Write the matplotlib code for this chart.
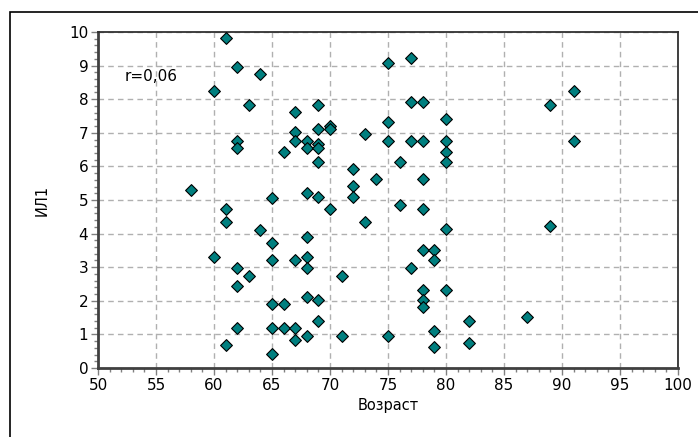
import matplotlib.pyplot as plt
from matplotlib.patches import Rectangle
from matplotlib.ticker import MultipleLocator

# Возраст и ИЛ1
age = [58, 60, 60, 61, 61, 61, 61, 62, 62, 62, 62, 62, 62, 63, 63, 64, 64,
       65, 65, 65, 65, 65, 65, 66, 66, 66,
       67, 67, 67, 67, 67, 67,
       68, 68, 68, 68, 68, 68, 68, 68,
       69, 69, 69, 69, 69, 69, 69, 69,
       70, 70, 70, 71, 71, 72, 72, 72, 73, 73, 74,
       75, 75, 75, 75, 76, 76, 77, 77, 77, 77,
       78, 78, 78, 78, 78, 78, 78, 78,
       79, 79, 79, 79,
       80, 80, 80, 80, 80, 80, 82, 82, 87, 89, 89, 91, 91]
il1 = [5.3, 8.24, 3.3, 9.83, 4.73, 4.34, 0.68, 8.96, 6.77, 6.55, 2.99, 2.43, 1.2, 7.83, 2.73, 8.76, 4.12,
       5.05, 3.71, 3.2, 1.91, 1.2, 0.43, 6.44, 1.91, 1.2,
       7.63, 7.01, 6.76, 3.2, 1.2, 0.83,
       6.77, 6.54, 5.21, 3.91, 3.3, 2.99, 2.12, 0.95,
       7.83, 7.11, 6.66, 6.54, 6.12, 5.1, 2.02, 1.41,
       7.2, 7.1, 4.73, 2.73, 0.95, 5.92, 5.42, 5.1, 6.95, 4.34, 5.62,
       9.07, 7.31, 6.76, 0.95, 6.12, 4.85, 9.22, 7.93, 6.76, 2.99,
       7.93, 6.76, 5.62, 4.73, 3.51, 2.33, 2.02, 1.81,
       3.51, 3.2, 1.09, 0.63,
       7.42, 6.76, 6.44, 6.12, 4.13, 2.32, 1.4, 0.73, 1.51, 7.83, 4.23, 8.24, 6.76]

W, H = 698, 437
fig = plt.figure(figsize=(W / 100, H / 100), dpi=100)
# рамка вокруг картинки (правый и нижний края обрезаны)
fig.patches.append(Rectangle((10 / W, -0.1), 1.2, (H - 12) / H + 0.1,
                             transform=fig.transFigure, fill=False,
                             edgecolor='black', linewidth=1.2))

ax = fig.add_axes([98 / W, (H - 368) / H, 580 / W, 336 / H])
ax.scatter(age, il1, marker='D', s=36, color='#007f7f', edgecolors='black',
           linewidths=0.8, zorder=3)

ax.set_xlim(50, 100)
ax.set_ylim(0, 10)
ax.xaxis.set_major_locator(MultipleLocator(5))
ax.xaxis.set_minor_locator(MultipleLocator(1))
ax.yaxis.set_major_locator(MultipleLocator(1))
ax.yaxis.set_minor_locator(MultipleLocator(0.2))

ax.grid(True, which='major', color='#b0b0b0', linestyle=(0, (4, 3)), linewidth=1)
ax.set_axisbelow(True)
for side in ['top', 'right']:
    ax.spines[side].set_color('#303030')
    ax.spines[side].set_linewidth(1.3)
for side in ['left', 'bottom']:
    ax.spines[side].set_color('#404040')
    ax.spines[side].set_linewidth(2)

ax.tick_params(which='major', direction='out', length=5, width=1, color='#808080',
               labelsize=11, pad=2)
ax.tick_params(which='minor', direction='out', length=3, width=1, color='#808080')

ax.set_xlabel('Возраст', fontsize=10.5, labelpad=4)
ax.set_ylabel('ИЛ1', fontsize=10.5, labelpad=14)
ax.text(52.3, 8.67, 'r=0,06', fontsize=11, va='center')

fig.savefig('out.png', dpi=100)
